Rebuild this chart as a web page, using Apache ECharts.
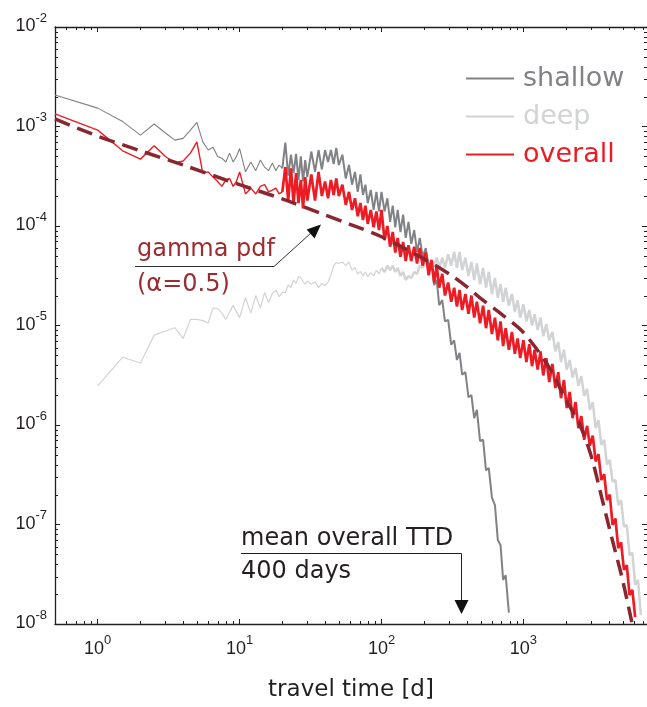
<!DOCTYPE html>
<html><head><meta charset="utf-8">
<script src="https://cdn.jsdelivr.net/npm/echarts@6/dist/echarts.min.js"></script>
<style>html,body{margin:0;padding:0;background:#fff}#c{width:647px;height:707px}</style>
</head><body><div id="c"></div>
<script>
// travel time [d]
const days = [
  0.5, 1, 1.5, 2, 2.5, 3, 3.5, 4, 4.5, 5,
  5.5, 6, 6.5, 7, 7.5, 8, 8.5, 9, 9.5, 10,
  11, 12, 13, 14, 15, 16, 17, 18, 19, 20,
  21, 22, 23, 24, 25, 26, 27, 28, 29, 30,
  32, 34, 36, 38, 40, 42, 44, 46, 48, 50,
  53, 56, 59, 62, 65, 68, 71, 74, 77, 80,
  84, 88, 92, 96, 100, 105, 110, 115, 120, 125,
  130, 136, 142, 148, 155, 162, 170, 178, 186, 195,
  205, 215, 225, 235, 245, 255, 268, 280, 295, 310,
  325, 340, 355, 370, 390, 410, 430, 450, 470, 495,
  520, 545, 570, 600, 630, 660, 690, 720, 750, 790,
  830, 870, 910, 950, 1000, 1050, 1100, 1150, 1200, 1260,
  1320, 1380, 1450, 1520, 1600, 1680, 1760, 1840, 1930, 2020,
  2120, 2220, 2330, 2440, 2560, 2680, 2810, 2940, 3080, 3230,
  3380, 3540, 3710, 3880, 4060, 4250, 4450, 4660, 4880, 5110,
  5350, 5600, 5860, 6130, 6420, 6720
];
const shallow = [
  2.07e-3, 1.53e-3, 1.12e-3, 8.2e-4, 1.06e-3, 8.6e-4, 7.3e-4, 7.6e-4, 9.2e-4, 1.1e-3,
  7.0e-4, 5.8e-4, 6.2e-4, 5.0e-4, 4.8e-4, 4.4e-4, 5.4e-4, 4.4e-4, 5.0e-4, 6.0e-4,
  3.5e-4, 4.4e-4, 3.6e-4, 4.6e-4, 3.9e-4, 3.6e-4, 4.3e-4, 3.6e-4, 4.1e-4, 3.8e-4,
  6.9e-4, 3.2e-4, 5.2e-4, 3.4e-4, 5.3e-4, 2.9e-4, 5.0e-4, 2.8e-4, 4.6e-4, 3.1e-4,
  5.6e-4, 3.5e-4, 5.8e-4, 3.7e-4, 5.8e-4, 4.4e-4, 5.8e-4, 4.2e-4, 6.1e-4, 4.1e-4,
  5.2e-4, 3.0e-4, 4.1e-4, 2.6e-4, 3.5e-4, 2.2e-4, 3.3e-4, 2.05e-4, 2.6e-4, 1.7e-4,
  2.3e-4, 1.45e-4, 2.2e-4, 1.4e-4, 2.2e-4, 1.4e-4, 1.9e-4, 1.1e-4, 1.6e-4, 9.7e-5,
  1.45e-4, 8.7e-5, 1.3e-4, 7.6e-5, 1.1e-4, 6.6e-5, 9.1e-5, 5.5e-5, 7.6e-5, 4.9e-5,
  6.0e-5, 3.9e-5, 4.4e-5, 2.55e-5, 2.87e-5, 1.6e-5, 1.8e-5, 1.1e-5, 1.14e-5, 6.4e-6,
  7.1e-6, 4.5e-6, 5.3e-6, 3.2e-6, 3.4e-6, 1.9e-6, 2.0e-6, 1.17e-6, 1.42e-6, 6.9e-7,
  7.1e-7, 3.5e-7, 3.7e-7, 1.86e-7, 1.57e-7, 7.0e-8, 6.2e-8, 2.77e-8, 3.1e-8, 1.3e-8,
  null, null, null, null, null, null, null, null, null, null,
  null, null, null, null, null, null, null, null, null, null,
  null, null, null, null, null, null, null, null, null, null,
  null, null, null, null, null, null, null, null, null, null,
  null, null, null, null, null, null
];
const deep = [
  null, 2.47e-6, 4.8e-6, 4.2e-6, 8.0e-6, 8.8e-6, 9.5e-6, 7.4e-6, 1.15e-5, 1.15e-5,
  1.12e-5, 1.06e-5, 1.5e-5, 1.48e-5, 1.33e-5, 1.15e-5, 1.37e-5, 1.6e-5, 1.37e-5, 1.2e-5,
  1.9e-5, 1.33e-5, 2.0e-5, 1.5e-5, 2.15e-5, 1.7e-5, 2.1e-5, 2.28e-5, 1.95e-5, 2.15e-5,
  2.15e-5, 2.55e-5, 2.4e-5, 2.87e-5, 2.65e-5, 3.1e-5, 3.0e-5, 2.75e-5, 2.6e-5, 2.8e-5,
  2.6e-5, 2.75e-5, 2.4e-5, 2.65e-5, 2.5e-5, 2.75e-5, 3.2e-5, 4.0e-5, 4.3e-5, 4.2e-5,
  4.35e-5, 4.0e-5, 4.35e-5, 3.6e-5, 3.8e-5, 3.3e-5, 3.5e-5, 3.15e-5, 3.45e-5, 3.1e-5,
  3.4e-5, 3.15e-5, 3.6e-5, 3.3e-5, 3.8e-5, 3.45e-5, 4.0e-5, 3.6e-5, 4.0e-5, 3.45e-5,
  3.8e-5, 3.15e-5, 3.45e-5, 2.87e-5, 3.15e-5, 3.0e-5, 3.45e-5, 3.3e-5, 4.0e-5, 3.8e-5,
  4.35e-5, 4.06e-5, 4.55e-5, 4.0e-5, 4.8e-5, 3.8e-5, 4.8e-5, 3.8e-5, 5.2e-5, 4.0e-5,
  5.5e-5, 3.8e-5, 5.5e-5, 3.6e-5, 4.8e-5, 3.15e-5, 4.35e-5, 2.87e-5, 4.2e-5, 2.6e-5,
  3.8e-5, 2.4e-5, 3.45e-5, 2.07e-5, 3.0e-5, 1.9e-5, 2.6e-5, 1.73e-5, 2.4e-5, 1.58e-5,
  2.07e-5, 1.37e-5, 1.8e-5, 1.2e-5, 1.63e-5, 1.1e-5, 1.43e-5, 1.0e-5, 1.3e-5, 9.0e-6,
  1.2e-5, 7.8e-6, 1.03e-5, 7.1e-6, 8.6e-6, 5.5e-6, 6.8e-6, 4.3e-6, 5.7e-6, 3.6e-6,
  4.5e-6, 3.0e-6, 3.75e-6, 2.47e-6, 3.1e-6, 1.96e-6, 2.3e-6, 1.42e-6, 1.7e-6, 9.3e-7,
  1.12e-6, 6.3e-7, 7.1e-7, 4.0e-7, 4.45e-7, 2.7e-7, 2.8e-7, 1.57e-7, 1.76e-7, 9.5e-8,
  9.9e-8, 4.9e-8, 5.2e-8, 2.47e-8, 2.77e-8, 1.23e-8
];
const overall = [
  1.34e-3, 9.2e-4, 5.7e-4, 4.7e-4, 6.4e-4, 5.0e-4, 4.3e-4, 4.5e-4, 5.4e-4, 7.0e-4,
  3.4e-4, 3.5e-4, 3.1e-4, 2.8e-4, 2.5e-4, 2.9e-4, 3.0e-4, 2.5e-4, 2.8e-4, 3.5e-4,
  2.1e-4, 2.4e-4, 2.1e-4, 2.5e-4, 2.6e-4, 2.2e-4, 2.3e-4, 2.4e-4, 2.1e-4, 2.2e-4,
  3.9e-4, 1.8e-4, 3.8e-4, 1.7e-4, 3.4e-4, 1.7e-4, 2.9e-4, 1.5e-4, 3.1e-4, 1.8e-4,
  3.3e-4, 1.8e-4, 3.5e-4, 2.0e-4, 2.8e-4, 1.9e-4, 2.9e-4, 2.05e-4, 3.0e-4, 2.0e-4,
  2.6e-4, 1.63e-4, 2.2e-4, 1.45e-4, 1.9e-4, 1.25e-4, 1.7e-4, 1.15e-4, 1.6e-4, 1.05e-4,
  1.45e-4, 9.7e-5, 1.4e-4, 9.1e-5, 1.45e-4, 7.2e-5, 1.0e-4, 6.2e-5, 8.7e-5, 5.4e-5,
  7.6e-5, 4.9e-5, 6.9e-5, 4.45e-5, 6.4e-5, 4.45e-5, 6.2e-5, 4.2e-5, 6.0e-5, 4.0e-5,
  5.4e-5, 3.2e-5, 4.55e-5, 2.7e-5, 4.0e-5, 2.4e-5, 3.3e-5, 2.0e-5, 2.7e-5, 1.73e-5,
  2.4e-5, 1.55e-5, 2.28e-5, 1.43e-5, 2.07e-5, 1.31e-5, 2.0e-5, 1.2e-5, 1.73e-5, 1.05e-5,
  1.58e-5, 9.4e-6, 1.43e-5, 8.2e-6, 1.2e-5, 7.1e-6, 1.1e-5, 6.2e-6, 9.4e-6, 5.7e-6,
  8.6e-6, 5.2e-6, 7.4e-6, 4.7e-6, 7.1e-6, 4.3e-6, 6.5e-6, 3.9e-6, 5.7e-6, 3.6e-6,
  5.5e-6, 3.15e-6, 4.7e-6, 2.7e-6, 4.1e-6, 2.35e-6, 3.4e-6, 1.86e-6, 2.83e-6, 1.48e-6,
  2.15e-6, 1.17e-6, 1.7e-6, 9.3e-7, 1.23e-6, 7.1e-7, 9.8e-7, 6.2e-7, 7.8e-7, 4.3e-7,
  5.1e-7, 2.8e-7, 3.2e-7, 1.76e-7, 2.0e-7, 9.9e-8, 1.15e-7, 5.8e-8, 6.6e-8, 3.5e-8,
  3.9e-8, 1.95e-8, 2.2e-8, 1.17e-8, null, null
];
// gamma pdf (alpha = 0.5)
const gammaDays = [0.5, 1, 2, 4, 10, 20, 40, 60, 100, 200, 300, 400, 500, 700, 1000, 1500, 2000, 2500, 3000, 3600, 4200, 5000, 5800, 6100];
const gammaPdf  = [1.19e-3, 8.0e-4, 5.7e-4, 4.1e-4, 2.6e-4, 1.87e-4, 1.29e-4, 1.04e-4, 7.8e-5, 4.65e-5, 3.3e-5, 2.45e-5, 1.87e-5, 1.3e-5, 8.5e-6, 3.9e-6, 1.78e-6, 1.0e-6, 4.9e-7, 1.76e-7, 7.3e-8, 2.77e-8, 1.05e-8, 7.5e-9];

const X_MIN = 0.5, X_MAX = 7430, Y_MIN = 1e-8, Y_MAX = 1e-2;
const minorMantissas = [2, 3, 4, 5, 6, 7, 8, 9];
const xDecades = [0.1, 1, 10, 100, 1000];
const yDecades = [1e-8, 1e-7, 1e-6, 1e-5, 1e-4, 1e-3];

const xMinor = [], yMinor = [];
xDecades.forEach(d => minorMantissas.forEach(m => { const v = m * d; if (v > X_MIN && v < X_MAX) xMinor.push(v); }));
yDecades.forEach(d => minorMantissas.forEach(m => yMinor.push(m * d)));

// build [x, y] pairs for index range [from, to]
function pairs(xs, ys, from, to) {
  const out = [];
  for (let i = from || 0; i <= (to == null ? xs.length - 1 : to); i++) if (ys[i] != null) out.push([xs[i], ys[i]]);
  return out;
}
const iNoisy = days.indexOf(20);    // start of the noisy part for shallow / overall
const iNoisyDeep = days.indexOf(100);

const INK = '#231f20';
const SANS = 'DejaVu Sans';
const TICKFONT = 'Liberation Sans';
const C_SHALLOW = '#808285', C_DEEP = '#d1d3d4', C_OVERALL = '#ed1c24', C_GAMMA = '#8b2631';

const powLabel = v => '{b|10}{s|' + Math.round(Math.log10(v)) + '}';
const labelRich = {
  b: { fontSize: 18, fontFamily: TICKFONT, color: INK, lineHeight: 24, verticalAlign: 'bottom' },
  s: { fontSize: 13, fontFamily: TICKFONT, color: INK, lineHeight: 13, verticalAlign: 'top' }
};

const chart = echarts.init(document.getElementById('c'), null, { renderer: 'canvas', width: 647, height: 707 });

function minorTickSeries(vals, isX) {
  return {
    type: 'custom', silent: true, coordinateSystem: 'cartesian2d', z: 1,
    data: vals.map(v => isX ? [v, Y_MIN] : [X_MIN, v]),
    renderItem: (p, api) => {
      const st = { stroke: INK, lineWidth: 1 };
      if (isX) {
        const v = api.value(0);
        const b = api.coord([v, Y_MIN]), t = api.coord([v, Y_MAX]);
        const px = Math.round(b[0]) + 0.5;
        return { type: 'group', children: [
          { type: 'line', shape: { x1: px, y1: b[1], x2: px, y2: b[1] - 3 }, style: st },
          { type: 'line', shape: { x1: px, y1: t[1], x2: px, y2: t[1] + 3 }, style: st }
        ]};
      } else {
        const v = api.value(1);
        const l = api.coord([X_MIN, v]), r = api.coord([X_MAX, v]);
        const py = Math.round(l[1]) + 0.5;
        return { type: 'group', children: [
          { type: 'line', shape: { x1: l[0], y1: py, x2: l[0] + 3, y2: py }, style: st },
          { type: 'line', shape: { x1: r[0], y1: py, x2: r[0] - 3, y2: py }, style: st }
        ]};
      }
    }
  };
}

const axisCommonX = {
  type: 'log', logBase: 10, min: X_MIN, max: X_MAX, splitLine: { show: false },
  axisLine: { onZero: false, lineStyle: { color: INK, width: 1.3 } },
  axisTick: { inside: true, length: 5, lineStyle: { color: INK, width: 1 } }
};
const axisCommonY = {
  type: 'log', logBase: 10, min: Y_MIN, max: Y_MAX, splitNumber: 6, splitLine: { show: false },
  axisLine: { onZero: false, lineStyle: { color: INK, width: 1.3 } },
  axisTick: { inside: true, length: 5, lineStyle: { color: INK, width: 1 } }
};

function lineSeries(name, data, color, width, z) {
  return { name, type: 'line', data, symbol: 'none', z,
    lineStyle: { color, width }, itemStyle: { color } };
}

const option = {
  animation: false,
  backgroundColor: '#fff',
  grid: { left: 55, top: 27, width: 592, height: 597, containLabel: false },
  xAxis: [
    Object.assign({}, axisCommonX, {
      position: 'bottom',
      axisLabel: { formatter: powLabel, rich: labelRich, margin: 10, showMinLabel: false, showMaxLabel: false },
      name: 'travel time [d]', nameLocation: 'middle', nameGap: 55,
      nameTextStyle: { fontSize: 23, fontFamily: SANS, color: INK }
    }),
    Object.assign({}, axisCommonX, { position: 'top', axisLabel: { show: false } })
  ],
  yAxis: [
    Object.assign({}, axisCommonY, {
      position: 'left',
      axisLabel: { formatter: powLabel, rich: labelRich, margin: 8, padding: [0, 0, 7, 0] }
    }),
    Object.assign({}, axisCommonY, { position: 'right', axisLine: { show: false }, axisLabel: { show: false } })
  ],
  legend: {
    data: [
      { name: 'shallow', textStyle: { color: C_SHALLOW } },
      { name: 'deep', textStyle: { color: C_DEEP } },
      { name: 'overall', textStyle: { color: C_OVERALL } }
    ],
    icon: 'rect',
    orient: 'vertical', left: 461, top: 60, itemWidth: 48, itemHeight: 2, itemGap: 11,
    textStyle: { fontSize: 27, fontFamily: SANS, padding: [0, 0, 0, 4] },
    selectedMode: false
  },
  series: [
    lineSeries('deep', pairs(days, deep, 0, iNoisyDeep), C_DEEP, 1.2, 2),
    lineSeries('deep', pairs(days, deep, iNoisyDeep), C_DEEP, 2.5, 2),
    lineSeries('shallow', pairs(days, shallow, 0, iNoisy), C_SHALLOW, 1.1, 3),
    lineSeries('shallow', pairs(days, shallow, iNoisy), C_SHALLOW, 2.0, 3),
    lineSeries('overall', pairs(days, overall, 0, iNoisy), C_OVERALL, 1.4, 4),
    lineSeries('overall', pairs(days, overall, iNoisy), C_OVERALL, 2.7, 4),
    { name: 'gamma pdf', type: 'line', data: pairs(gammaDays, gammaPdf), symbol: 'none', z: 5, smooth: 0.3,
      lineStyle: { color: C_GAMMA, width: 3.5, type: [16, 8] }, itemStyle: { color: C_GAMMA } },
    minorTickSeries(xMinor, true),
    minorTickSeries(yMinor, false)
  ],
  graphic: [
    { type: 'text', z: 10, style: { text: 'gamma pdf', x: 137, y: 250, fontSize: 24, fontFamily: SANS, fill: '#9b2c30', verticalAlign: 'middle' } },
    { type: 'text', z: 10, style: { text: '(\u03b1=0.5)', x: 137, y: 285, fontSize: 24, fontFamily: SANS, fill: '#9b2c30', verticalAlign: 'middle' } },
    { type: 'polyline', z: 10, shape: { points: [[135, 266.5], [274, 266.5], [311, 233]] }, style: { stroke: '#333', lineWidth: 1, fill: null } },
    { type: 'polygon', z: 10, shape: { points: [[321, 224.5], [314.6, 238.4], [306.6, 229.4]] }, style: { fill: '#111' } },
    { type: 'text', z: 10, style: { text: 'mean overall TTD', x: 241, y: 539, fontSize: 24, fontFamily: SANS, fill: INK, verticalAlign: 'middle' } },
    { type: 'text', z: 10, style: { text: '400 days', x: 241, y: 572, fontSize: 24, fontFamily: SANS, fill: INK, verticalAlign: 'middle' } },
    { type: 'polyline', z: 10, shape: { points: [[241, 553.5], [461.5, 553.5], [461.5, 601]] }, style: { stroke: INK, lineWidth: 1, fill: null } },
    { type: 'polygon', z: 10, shape: { points: [[454.5, 600], [468.5, 600], [461.5, 614]] }, style: { fill: '#111' } }
  ]
};
chart.setOption(option);
</script>
</body></html>
